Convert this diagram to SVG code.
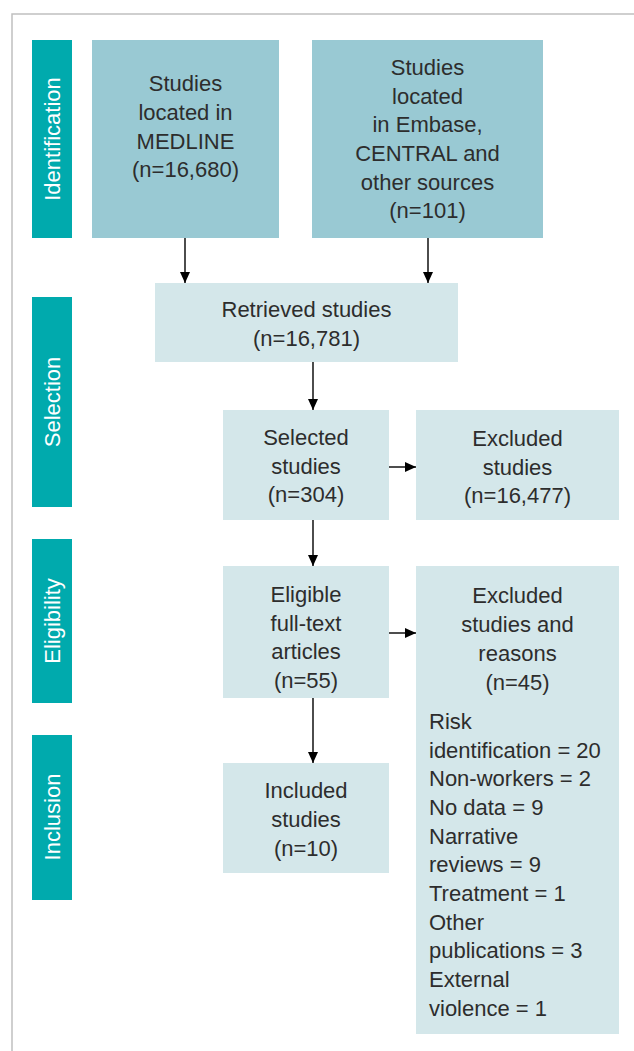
<svg xmlns="http://www.w3.org/2000/svg" width="634" height="1051" viewBox="0 0 634 1051">
<style>
.bar{fill:#00aaad}
.dark{fill:#99c9d3}
.light{fill:#d4e7ea}
.t{font-family:"Liberation Sans",Arial,sans-serif;font-size:22px;fill:#2d2d2d;text-anchor:middle}
.l{font-family:"Liberation Sans",Arial,sans-serif;font-size:22px;fill:#2d2d2d}
.s{font-family:"Liberation Sans",Arial,sans-serif;font-size:22px;fill:#ffffff;text-anchor:middle}
.c{stroke:#000;stroke-width:1.4;fill:none}
</style>
<defs>
<marker id="ah" markerUnits="userSpaceOnUse" markerWidth="12" markerHeight="12" refX="11" refY="6" orient="auto">
<path d="M0,1 L11,6 L0,11 Z" fill="#000"/>
</marker>
</defs>
<rect width="634" height="1051" fill="#fff"/>
<polyline points="12,1051 12,14 634,14" fill="none" stroke="#c0c0c0" stroke-width="1.5"/>

<g id="stage-identification">
<rect class="bar" x="32" y="40" width="40" height="198"/>
<text class="s" transform="translate(60,139) rotate(-90)">Identification</text>
</g>
<g id="stage-selection">
<rect class="bar" x="32" y="297" width="40" height="210"/>
<text class="s" transform="translate(60,402) rotate(-90)">Selection</text>
</g>
<g id="stage-eligibility">
<rect class="bar" x="32" y="539" width="40" height="164"/>
<text class="s" transform="translate(60,621) rotate(-90)">Eligibility</text>
</g>
<g id="stage-inclusion">
<rect class="bar" x="32" y="735" width="40" height="165"/>
<text class="s" transform="translate(60,817) rotate(-90)">Inclusion</text>
</g>

<g id="medline">
<rect class="dark" x="92" y="40" width="187" height="198"/>
<text class="t" x="185.5" y="91">Studies</text>
<text class="t" x="185.5" y="120">located in</text>
<text class="t" x="185.5" y="148.5">MEDLINE</text>
<text class="t" x="185.5" y="177">(n=16,680)</text>
</g>
<g id="embase">
<rect class="dark" x="312" y="40" width="231" height="198"/>
<text class="t" x="427.5" y="75">Studies</text>
<text class="t" x="427.5" y="103.7">located</text>
<text class="t" x="427.5" y="132.3">in Embase,</text>
<text class="t" x="427.5" y="161">CENTRAL and</text>
<text class="t" x="427.5" y="189.7">other sources</text>
<text class="t" x="427.5" y="218.4">(n=101)</text>
</g>
<g id="retrieved">
<rect class="light" x="155" y="283" width="303" height="79"/>
<text class="t" x="306.5" y="317">Retrieved studies</text>
<text class="t" x="306.5" y="346">(n=16,781)</text>
</g>
<g id="selected">
<rect class="light" x="223" y="410" width="166" height="110"/>
<text class="t" x="306" y="445">Selected</text>
<text class="t" x="306" y="474">studies</text>
<text class="t" x="306" y="502">(n=304)</text>
</g>
<g id="excluded">
<rect class="light" x="416" y="410" width="203" height="110"/>
<text class="t" x="517.5" y="446">Excluded</text>
<text class="t" x="517.5" y="475">studies</text>
<text class="t" x="517.5" y="503">(n=16,477)</text>
</g>
<g id="eligible">
<rect class="light" x="223" y="566" width="166" height="132"/>
<text class="t" x="306" y="602">Eligible</text>
<text class="t" x="306" y="631">full-text</text>
<text class="t" x="306" y="659">articles</text>
<text class="t" x="306" y="688">(n=55)</text>
</g>
<g id="excluded-reasons">
<rect class="light" x="416" y="566" width="203" height="468"/>
<text class="t" x="517.5" y="603">Excluded</text>
<text class="t" x="517.5" y="632">studies and</text>
<text class="t" x="517.5" y="661">reasons</text>
<text class="t" x="517.5" y="690">(n=45)</text>
<text class="l" x="429" y="729">Risk</text>
<text class="l" x="429" y="758">identification = 20</text>
<text class="l" x="429" y="786">Non-workers = 2</text>
<text class="l" x="429" y="815">No data = 9</text>
<text class="l" x="429" y="844">Narrative</text>
<text class="l" x="429" y="872">reviews = 9</text>
<text class="l" x="429" y="901">Treatment = 1</text>
<text class="l" x="429" y="930">Other</text>
<text class="l" x="429" y="958">publications = 3</text>
<text class="l" x="429" y="987">External</text>
<text class="l" x="429" y="1016">violence = 1</text>
</g>
<g id="included">
<rect class="light" x="223" y="763" width="166" height="110"/>
<text class="t" x="306" y="798">Included</text>
<text class="t" x="306" y="827">studies</text>
<text class="t" x="306" y="856">(n=10)</text>
</g>

<g id="connectors">
<line class="c" x1="185" y1="238" x2="185" y2="283" marker-end="url(#ah)"/>
<line class="c" x1="428" y1="238" x2="428" y2="283" marker-end="url(#ah)"/>
<line class="c" x1="313" y1="362" x2="313" y2="410" marker-end="url(#ah)"/>
<line class="c" x1="389" y1="467" x2="416" y2="467" marker-end="url(#ah)"/>
<line class="c" x1="313" y1="520" x2="313" y2="566" marker-end="url(#ah)"/>
<line class="c" x1="389" y1="633" x2="416" y2="633" marker-end="url(#ah)"/>
<line class="c" x1="313" y1="698" x2="313" y2="763" marker-end="url(#ah)"/>
</g>
</svg>
